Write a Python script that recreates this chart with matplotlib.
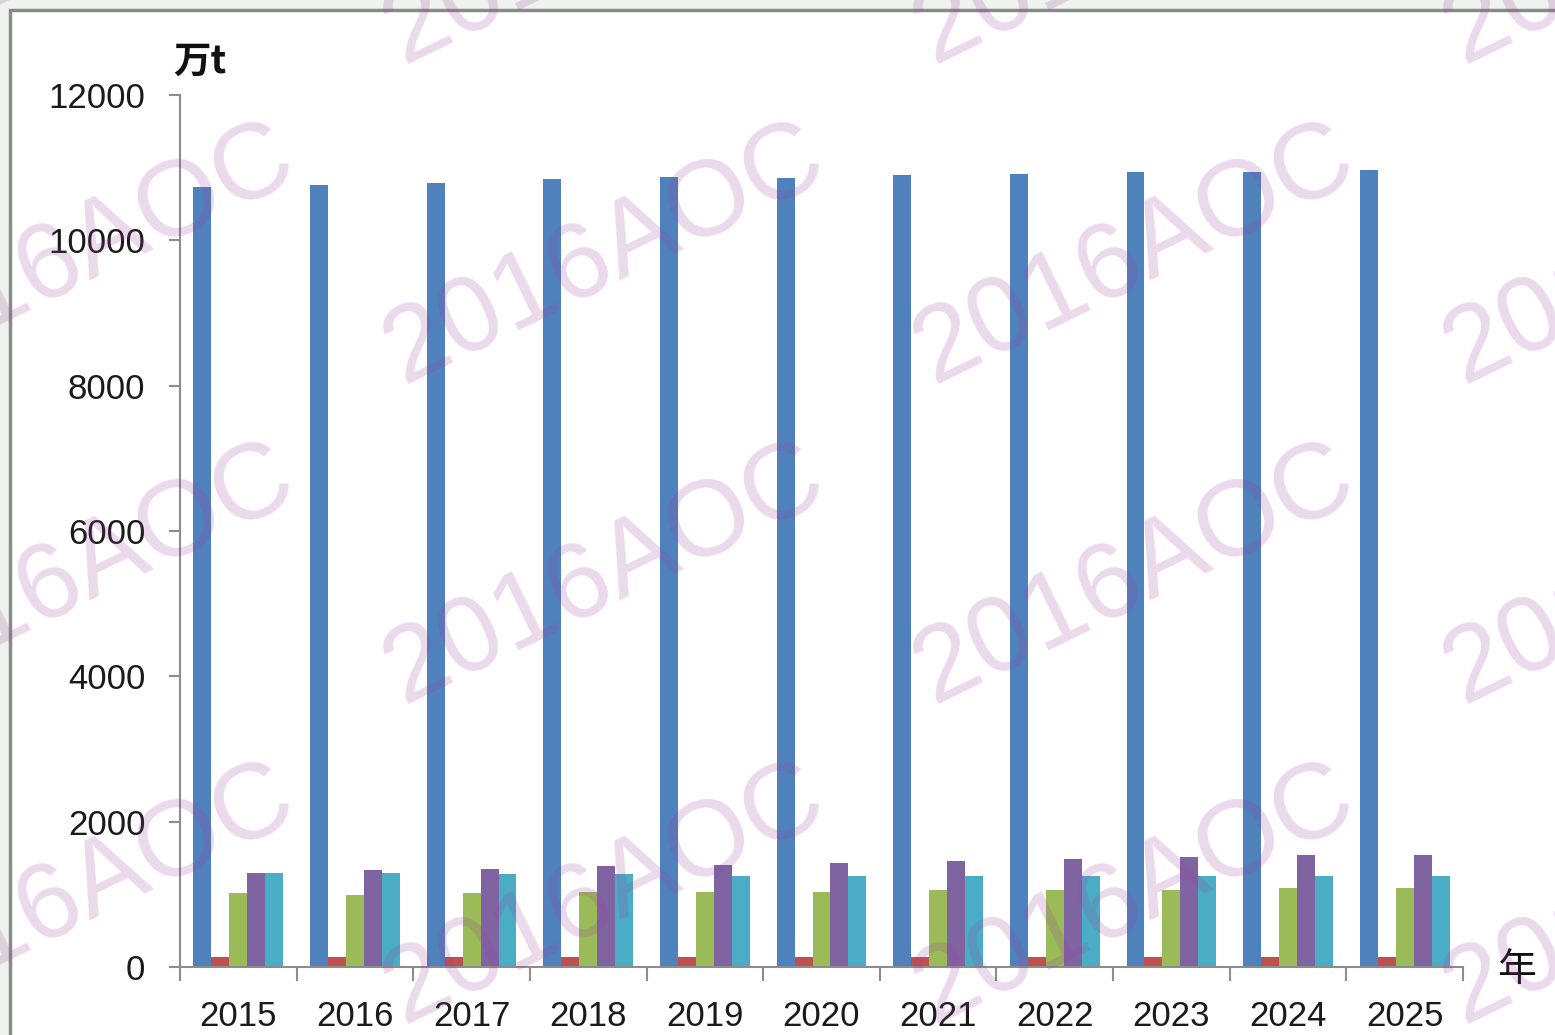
import matplotlib.pyplot as plt
from matplotlib.patches import Rectangle
import numpy as np

years = ['2015', '2016', '2017', '2018', '2019', '2020', '2021', '2022', '2023', '2024', '2025']
blue = [10735, 10760, 10785, 10840, 10865, 10860, 10895, 10915, 10940, 10940, 10965]
red = [140, 140, 140, 140, 140, 140, 140, 140, 140, 140, 140]
green = [1015, 985, 1015, 1035, 1035, 1035, 1065, 1065, 1065, 1090, 1090]
purple = [1300, 1330, 1355, 1385, 1405, 1435, 1460, 1485, 1515, 1540, 1540]
cyan = [1300, 1300, 1275, 1275, 1250, 1250, 1250, 1250, 1250, 1250, 1250]
yticks = [0, 2000, 4000, 6000, 8000, 10000, 12000]

series = [blue, red, green, purple, cyan]
colors = ['#4f81bd', '#c0504d', '#9bbb59', '#8064a2', '#4bacc6']

W, H = 1555, 1035
fig = plt.figure(figsize=(W / 100, H / 100), dpi=100)
fig.patch.set_facecolor('#eef3ee')
# white chart area with grey frame on top/left
fig.add_artist(Rectangle((10 / W, -0.01), 1.02, 1 - 10 / H + 0.01, transform=fig.transFigure,
                         facecolor='white', edgecolor='#8a8a8a', linewidth=2.5, zorder=0))

ax = fig.add_axes([180 / W, 1 - 967 / H, (1463 - 180) / W, (967 - 95) / H])
ax.patch.set_alpha(0)

x = np.arange(len(years))
w = 1 / 6.5
for i, (vals, c) in enumerate(zip(series, colors)):
    ax.bar(x + (i - 2) * w, vals, width=w, color=c, edgecolor='none', zorder=2)

ax.set_xlim(-0.5, len(years) - 0.5)
ax.set_ylim(0, 12000)
ax.set_yticks(yticks)
ax.set_yticklabels([str(v) for v in yticks], family='Liberation Sans', fontsize=25)
ax.set_xticks(x)
ax.set_xticklabels(years, family='Liberation Sans', fontsize=25)
ax.set_xticks(np.arange(-0.5, len(years)), minor=True)

for s in ['top', 'right']:
    ax.spines[s].set_visible(False)
for s in ['left', 'bottom']:
    ax.spines[s].set_color('#8c8c8c')
    ax.spines[s].set_linewidth(1.5)

ax.tick_params(axis='y', direction='out', length=8, width=1.5, color='#8c8c8c', pad=17, labelcolor='#1a1a1a')
ax.tick_params(axis='x', which='major', length=0, pad=24, labelcolor='#1a1a1a')
ax.tick_params(axis='x', which='minor', direction='out', length=10, width=1.5, color='#8c8c8c')

fig.text(173 / W, 1 - 73 / H, '万t', family=['Noto Sans CJK SC', 'DejaVu Sans'],
         fontsize=27, fontweight='bold', ha='left', va='baseline', color='#111111')
fig.text(1517 / W, 1 - 970 / H, '年', family=['Noto Sans CJK SC', 'DejaVu Sans'],
         fontsize=28, ha='center', va='center', color='#111111')

# watermark
for cx in [75, 605, 1135, 1665]:
    for cy in [-65, 255, 575, 895]:
        fig.text(cx / W, 1 - cy / H, '2016AOC', family='Liberation Sans', fontsize=78,
                 rotation=26, rotation_mode='anchor', ha='center', va='center',
                 color='#9b3fa0', alpha=0.2, zorder=10)

fig.savefig('out.png', dpi=100, facecolor=fig.get_facecolor())
